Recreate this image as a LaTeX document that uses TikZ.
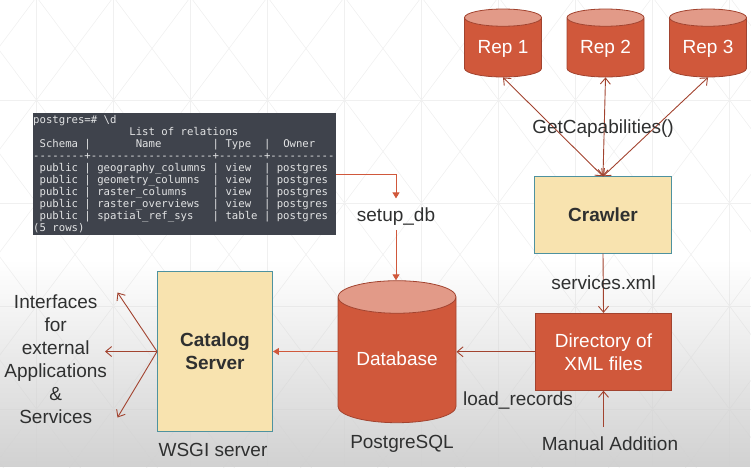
\documentclass[tikz,border=0pt]{standalone}
\usepackage{fontspec}
\setmainfont{Liberation Sans}
\newfontfamily\termfont{DejaVu Sans Mono}
\usetikzlibrary{shapes.geometric,arrows.meta,fadings}
\definecolor{brick}{HTML}{D0583B}
\definecolor{brickdark}{HTML}{A2432F}
\definecolor{brickend}{HTML}{E29A88}
\definecolor{sand}{HTML}{F8E3AF}
\definecolor{tealedge}{HTML}{4E929F}
\definecolor{inkgray}{HTML}{2F3030}
\definecolor{termbg}{HTML}{3F434C}
\definecolor{termfg}{HTML}{E2E3E4}
\definecolor{gridline}{HTML}{F0F0F0}
\begin{document}
\begin{tikzpicture}[x=1pt,y=-1pt,
    every node/.style={font=\fontsize{19}{23}\selectfont,text=inkgray,inner sep=0pt},
    lbl/.style={anchor=base},
    can/.style={cylinder,shape border rotate=90,draw=brickdark,line width=.8pt,
      cylinder uses custom fill,cylinder body fill=brick,cylinder end fill=brickend,
      anchor=shape center,text=white,minimum width=#1},
    yellowbox/.style={draw=tealedge,line width=.9pt,fill=sand,align=center,
      font=\fontsize{19}{23}\selectfont\bfseries},
    redbox/.style={draw=brickdark,line width=.8pt,fill=brick,text=white,align=center},
    openarr/.style={draw=brickdark,line width=.9pt,-{Straight Barb[length=6pt,width=10pt]}},
    bothends/.style={draw=brickdark,line width=.9pt,
      {Straight Barb[length=6pt,width=10pt]}-{Straight Barb[length=6pt,width=10pt]}},
    fillarr/.style={draw=brick,line width=.9pt,-{Triangle[length=6pt,width=7pt]}}]
  \useasboundingbox (0,0) rectangle (751,467);
  \begin{scope}
    \clip (0,0) rectangle (751,467);
    \foreach \k in {-1,...,9} {
      \draw[gridline,line width=.6pt] ({36.5+77*\k},0) -- ({36.5+77*\k},467);
      \foreach \m in {-1,...,4} {
        \draw[gridline,line width=.6pt] ({36.5+77*\k},{100+103*\m}) -- ++(77,103);
        \draw[gridline,line width=.6pt] ({36.5+77*\k},{100+103*\m}) -- ++(77,-103);
      }
    }
    \foreach \m in {0,...,3}
      \draw[gridline,line width=.6pt] (0,{100+103*\m}) -- (751,{100+103*\m});
  \end{scope}
  \fill[black!18,path fading=north] (0,260) rectangle (751,467);

  \node[can=77pt,minimum height=68pt,aspect=.34,text height=16pt] (repa) at (503,43) {Rep 1};
  \node[can=77pt,minimum height=68pt,aspect=.34,text height=16pt] (repb) at (605.5,43) {Rep 2};
  \node[can=77pt,minimum height=68pt,aspect=.34,text height=16pt] (repc) at (708,43) {Rep 3};
  \node[yellowbox,minimum width=137pt,minimum height=76.5pt] (crawler) at (603,215) {Crawler};
  \node[redbox,minimum width=136pt,minimum height=77pt] (xmldir) at (603.5,351.8) {Directory of\\XML files};
  \node[can=118pt,minimum height=142pt,aspect=.4,text depth=3pt] (database) at (397,351.7) {Database};
  \node[yellowbox,minimum width=115pt,minimum height=159.5pt] (catalog) at (215,351.5) {Catalog\\Server};
  \node[fill=termbg,minimum width=303pt,minimum height=122pt] (terminal) at (184.5,174) {};
  \node[anchor=north west,text=termfg,align=left,font=\termfont\fontsize{10.65}{12}\selectfont] (psql) at (33,115.5) {%
    postgres=\#~\textbackslash d\\
    ~~~~~~~~~~~~~~~List~of~relations\\
    ~Schema~|~~~~~~~Name~~~~~~~~|~Type~~|~~Owner\\
    --------+-------------------+-------+----------\\
    ~public~|~geography\_columns~|~view~~|~postgres\\
    ~public~|~geometry\_columns~~|~view~~|~postgres\\
    ~public~|~raster\_columns~~~~|~view~~|~postgres\\
    ~public~|~raster\_overviews~~|~view~~|~postgres\\
    ~public~|~spatial\_ref\_sys~~~|~table~|~postgres\\
    (5~rows)};

  \draw[bothends] (repa.south) -- (crawler.north);
  \draw[bothends] (repb.south) -- (crawler.north);
  \draw[bothends] (repc.south) -- (crawler.north);
  \node[lbl] (getcaps) at (603,133) {GetCapabilities()};

  \node[lbl,text height=19pt,text depth=4pt,inner ysep=4pt] (setupdb) at (396,221.6) {setup\_db};
  \draw[fillarr] (terminal.east) -| (setupdb.north);
  \draw[fillarr] (setupdb.south) -- (setupdb.south |- database.north);

  \draw[openarr] (crawler.south) -- (xmldir.north);
  \node[lbl] (servicesxml) at (603.5,289) {services.xml};
  \draw[openarr] (xmldir.west) -- (xmldir.west -| database.east);
  \node[lbl] (loadrecords) at (518,405.7) {load\_records};
  \coordinate (manualin) at (603.5,427);
  \draw[openarr] (manualin) -- (xmldir.south);
  \node[lbl] (manual) at (610,450.7) {Manual Addition};
  \draw[fillarr] (catalog.east -| database.west) -- (catalog.east);
  \node[lbl] (postgresql) at (402,448) {PostgreSQL};
  \node[lbl] (wsgi) at (213,456) {WSGI server};

  \coordinate (outa) at (117.5,292.5);
  \coordinate (outb) at (105,351.5);
  \coordinate (outc) at (117.5,417.5);
  \draw[openarr] (catalog.west) -- (outa);
  \draw[openarr] (catalog.west) -- (outb);
  \draw[openarr] (catalog.west) -- (outc);
  \node[align=center] (interfaces) at (55.7,359) {Interfaces\\for\\external\\Applications\\\&\\Services};
\end{tikzpicture}
\end{document}
